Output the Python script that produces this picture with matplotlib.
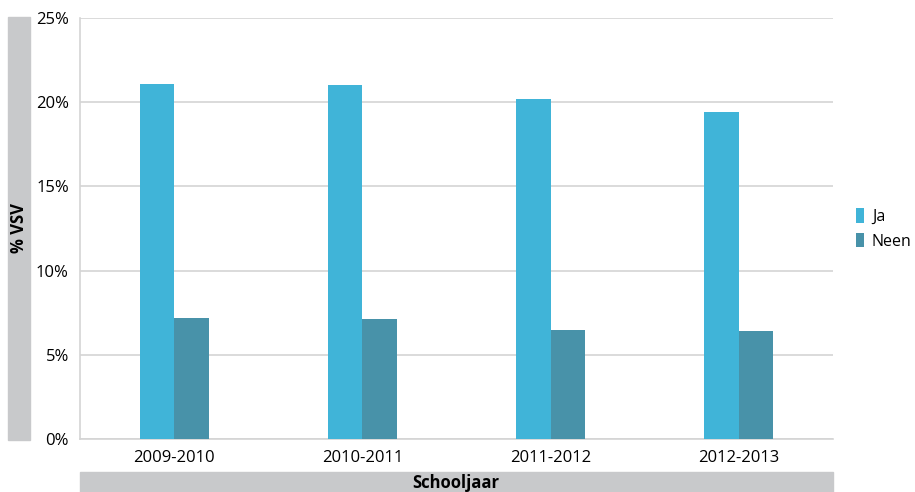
import matplotlib
matplotlib.use("Agg")
import matplotlib.pyplot as plt
from matplotlib.patches import Rectangle
import numpy as np

categories = ["2009-2010", "2010-2011", "2011-2012", "2012-2013"]
ja = [21.1, 21.0, 20.2, 19.4]
neen = [7.2, 7.1, 6.5, 6.4]
yticks = [0, 5, 10, 15, 20, 25]
ytick_labels = ["0%", "5%", "10%", "15%", "20%", "25%"]

plt.rcParams['font.family'] = ['Open Sans', 'DejaVu Sans']

fig = plt.figure(figsize=(9.15, 4.92), dpi=100)
ax = fig.add_axes([80/915, 1-439/492, 753/915, 421/492])

x = np.arange(len(categories))
w = 0.183
ax.bar(x - w/2, ja, width=w, color="#40B4D8", label="Ja", zorder=3)
ax.bar(x + w/2, neen, width=w, color="#4892A9", label="Neen", zorder=3)

ax.set_xlim(-0.5, len(categories) - 0.5)
ax.set_ylim(0, 25)
ax.set_yticks(yticks)
ax.set_yticklabels(ytick_labels, fontsize=12)
ax.set_xticks(x)
ax.set_xticklabels(categories, fontsize=12)
ax.tick_params(axis='both', length=0)
ax.tick_params(axis='y', pad=8)
ax.tick_params(axis='x', pad=8)
ax.yaxis.grid(True, color="#D4D4D4", linewidth=1.2, zorder=0)
for s in ["top", "right"]:
    ax.spines[s].set_visible(False)
ax.spines["left"].set_color("#D4D4D4")
ax.spines["bottom"].set_color("#D4D4D4")
ax.spines["left"].set_linewidth(1.2)
ax.spines["bottom"].set_linewidth(1.2)

# grey label bands
fig.patches.append(Rectangle((8/915, 1-440/492), 22/915, 423/492,
                             transform=fig.transFigure, color="#C8C9CB", zorder=0))
fig.patches.append(Rectangle((80/915, 0), 753/915, 20/492,
                             transform=fig.transFigure, color="#C8C9CB", zorder=0))
fig.text(19/915, 1-228/492, "% VSV", rotation=90, ha="center", va="center",
         fontsize=12, fontweight="bold")
fig.text(456/915, 1-483/492, "Schooljaar", ha="center", va="center",
         fontsize=12, fontweight="bold")

leg = ax.legend(loc="center left", bbox_to_anchor=(851/915, 1-229/492),
                bbox_transform=fig.transFigure, frameon=False, fontsize=11.5,
                handlelength=0.5, handleheight=1.0, handletextpad=0.5,
                labelspacing=0.5, borderaxespad=0, borderpad=0.3)

fig.savefig("out.png", dpi=100)
